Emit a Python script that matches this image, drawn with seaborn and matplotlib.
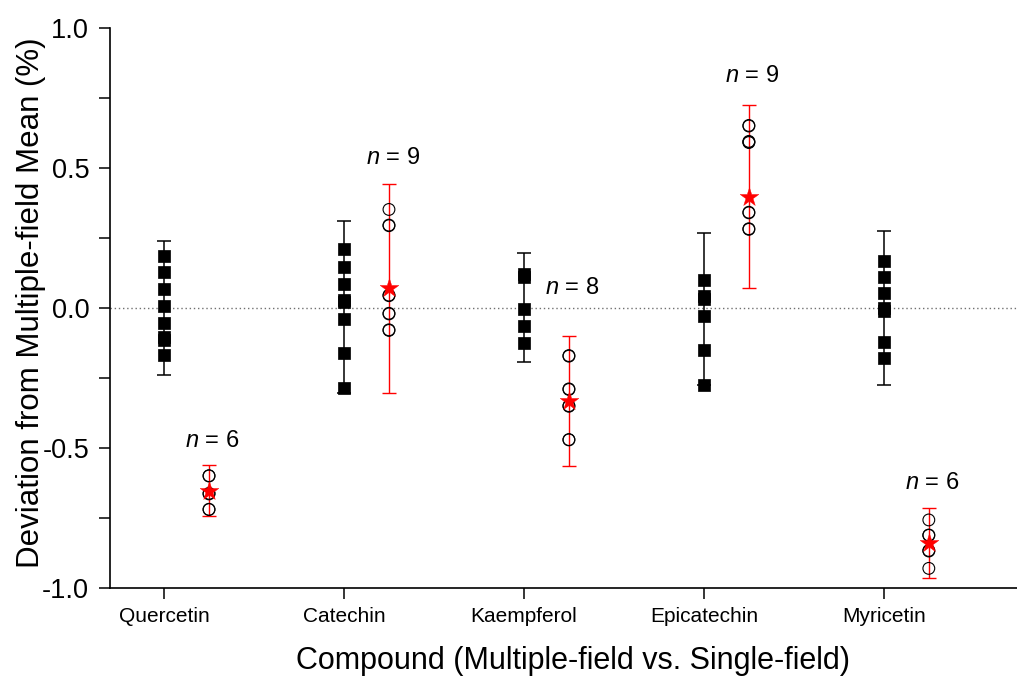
import numpy as np
import pandas as pd
import matplotlib
matplotlib.use("Agg")
import matplotlib.pyplot as plt
from matplotlib.ticker import MultipleLocator
import seaborn as sns

# Compounds on the x axis
compounds = ["Quercetin", "Catechin", "Kaempferol", "Epicatechin", "Myricetin"]

# Multiple-field deviations (%), one list per compound
multi_quercetin = [0.187, 0.128, 0.067, 0.007, -0.052, -0.105, -0.115, -0.169]
multi_catechin = [0.211, 0.146, 0.086, 0.030, 0.020, -0.039, -0.162, -0.287]
multi_kaempferol = [0.120, 0.110, -0.005, -0.064, -0.124]
multi_epicatechin = [0.100, 0.042, 0.032, -0.027, -0.150, -0.275]
multi_myricetin = [0.169, 0.112, 0.055, 0.000, -0.010, -0.121, -0.180]

# Single-field deviations (%), one list per compound
single_quercetin = [-0.599, -0.600, -0.662, -0.664, -0.719, -0.720]
single_catechin = [0.352, 0.294, 0.296, 0.044, 0.046, -0.019, -0.021, -0.080, -0.078]
single_kaempferol = [-0.170, -0.289, -0.291, -0.349, -0.351, -0.471, -0.470, -0.172]
single_epicatechin = [0.650, 0.593, 0.595, 0.342, 0.340, 0.281, 0.283, 0.652, 0.591]
single_myricetin = [-0.757, -0.811, -0.868, -0.930, -0.812, -0.866]

# Centre and half-width of the error bars
multi_center = [0.000, 0.005, 0.001, -0.004, 0.001]
multi_err = [0.239, 0.307, 0.194, 0.272, 0.275]
single_mean = [-0.652, 0.070, -0.332, 0.398, -0.838]
single_err = [0.090, 0.373, 0.232, 0.328, 0.125]

# Sample sizes shown above the single-field groups, and label heights
n_labels = [6, 9, 8, 9, 6]
n_label_y = [-0.475, 0.535, 0.07, 0.83, -0.625]

multi_sets = [multi_quercetin, multi_catechin, multi_kaempferol,
              multi_epicatechin, multi_myricetin]
single_sets = [single_quercetin, single_catechin, single_kaempferol,
               single_epicatechin, single_myricetin]

offset = 0.25
multi_df = pd.DataFrame(
    [(i, v) for i, vals in enumerate(multi_sets) for v in vals],
    columns=["pos", "dev"])
single_df = pd.DataFrame(
    [(i + offset, v) for i, vals in enumerate(single_sets) for v in vals],
    columns=["pos", "dev"])
mean_df = pd.DataFrame({"pos": np.arange(len(compounds)) + offset,
                        "dev": single_mean})

sns.set_theme(style="ticks")
plt.rcParams["font.family"] = ["Liberation Sans", "DejaVu Sans"]
plt.rcParams["mathtext.fontset"] = "custom"
plt.rcParams["mathtext.it"] = "Liberation Sans:italic"
plt.rcParams["mathtext.rm"] = "Liberation Sans"
for key in ("text.color", "axes.labelcolor", "xtick.color", "ytick.color",
            "axes.edgecolor"):
    plt.rcParams[key] = "black"

fig = plt.figure(figsize=(10.17, 6.77), dpi=100)
ax = fig.add_axes([0.1082, 0.1315, 0.8918, 0.8271])

ax.axhline(0, color="#707070", linestyle=(0, (1, 2)), linewidth=1.0, zorder=1)

x = np.arange(len(compounds))
ax.errorbar(x, multi_center, yerr=multi_err, fmt="none", ecolor="black",
            elinewidth=1.1, capsize=4.8, capthick=1.1, zorder=2)
ax.errorbar(x + offset, single_mean, yerr=single_err, fmt="none",
            ecolor="red", elinewidth=1.0, capsize=4.7, capthick=1.0, zorder=2)

sns.scatterplot(data=multi_df, x="pos", y="dev", marker="s", s=64,
                color="black", edgecolor="black", linewidth=0.5, ax=ax,
                zorder=3, legend=False)
sns.scatterplot(data=single_df, x="pos", y="dev", marker="o", s=72,
                facecolor="none", edgecolor="black", linewidth=0.8, ax=ax,
                zorder=3, legend=False)
sns.scatterplot(data=mean_df, x="pos", y="dev", marker="*", s=200,
                color="red", edgecolor="red", linewidth=0.3, ax=ax,
                zorder=4, legend=False)

for i, (n, yl) in enumerate(zip(n_labels, n_label_y)):
    ax.text(i + offset + 0.02, yl, f"$\\it{{n}}$ = {n}", ha="center",
            va="center", fontsize=17)

ax.set_xlim(-0.3, 4.74)
ax.set_ylim(-1.0, 1.0)
ax.set_xticks(x)
ax.set_xticklabels(compounds, fontsize=15)
ax.yaxis.set_minor_locator(MultipleLocator(0.25))
ax.set_yticks([-1.0, -0.5, 0.0, 0.5, 1.0])
ax.set_yticklabels(["-1.0", "-0.5", "0.0", "0.5", "1.0"], fontsize=19.5)
ax.tick_params(axis="both", which="major", direction="out", length=8,
               width=1.1, color="black")
ax.tick_params(axis="y", which="major", pad=7)
ax.tick_params(axis="x", which="major", pad=6)
ax.tick_params(axis="y", which="minor", direction="out", length=8,
               width=1.1, color="black")

ax.set_xlabel("Compound (Multiple-field vs. Single-field)", fontsize=22,
              labelpad=14)
ax.xaxis.label.set_x(0.51)
ax.set_ylabel("Deviation from Multiple-field Mean (%)", fontsize=22.5)
ax.yaxis.set_label_coords(-0.071, 0.51)

sns.despine(ax=ax)
for side in ("left", "bottom"):
    ax.spines[side].set_linewidth(1.2)
    ax.spines[side].set_color("black")

fig.savefig("out.png", dpi=100, facecolor="white")
